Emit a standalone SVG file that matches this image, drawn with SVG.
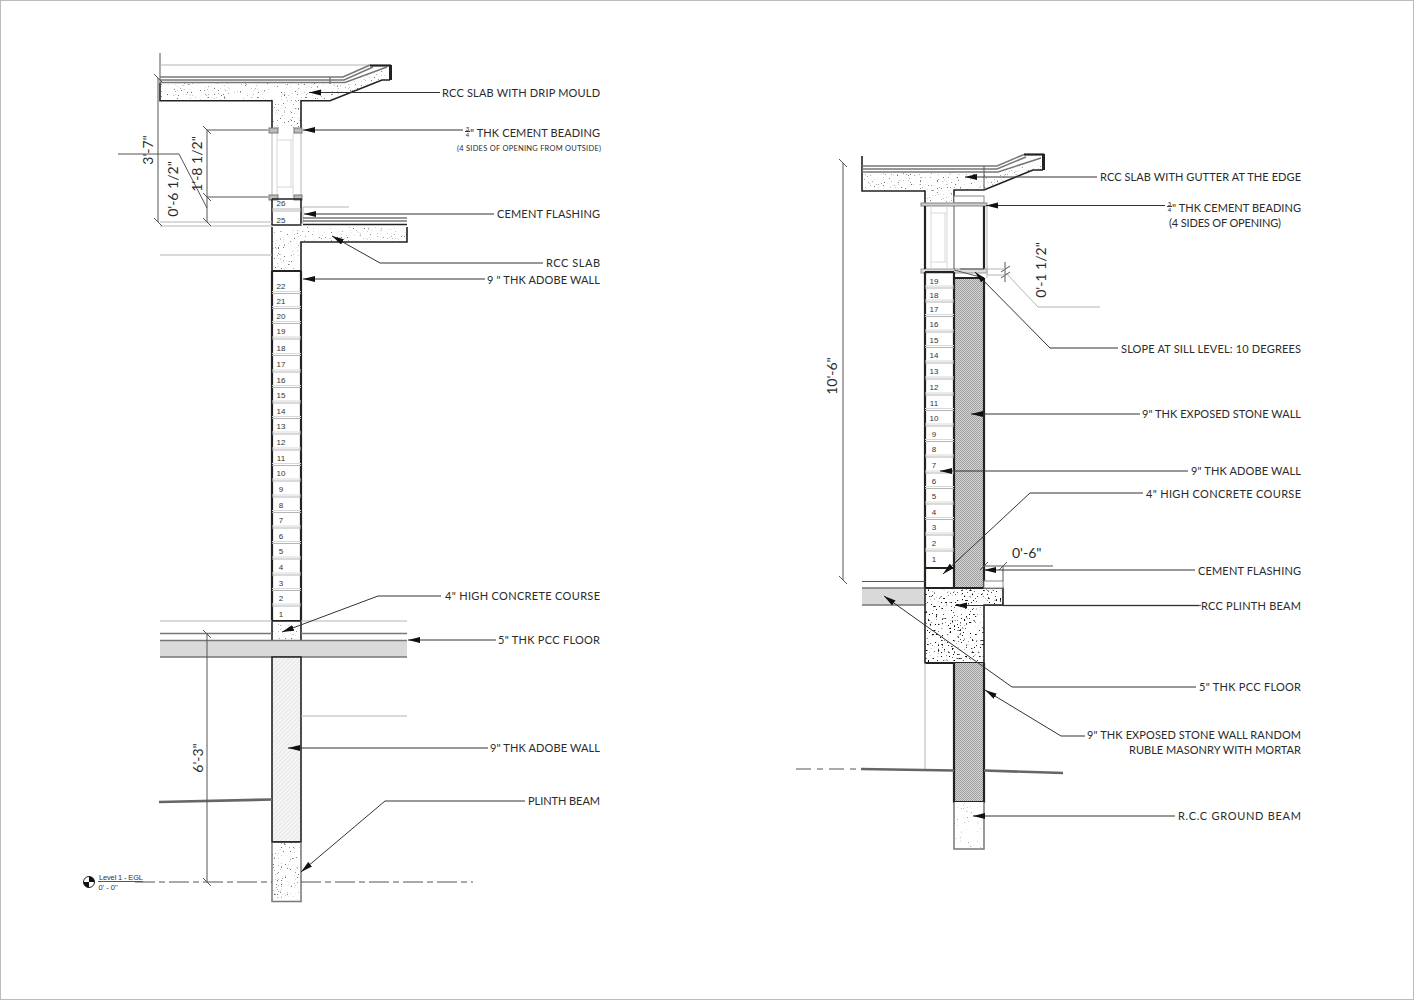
<svg xmlns="http://www.w3.org/2000/svg" width="1414" height="1000" viewBox="0 0 1414 1000">
<style>
text{font-family:"Lato","Liberation Sans",sans-serif;fill:#2b2b2b}
.lb{font-size:11px}
.sm{font-size:7.5px}
.dim{font-size:14px}
.n{font-family:"Liberation Sans",sans-serif;font-size:8px;text-anchor:middle;fill:#333}
.lv{font-family:"Liberation Sans",sans-serif;font-size:7.5px;fill:#333}
.k{fill:none;stroke:#222;stroke-width:1.6}
.kk{fill:none;stroke:#222;stroke-width:2.2}
.m{fill:none;stroke:#555;stroke-width:1}
.t{fill:none;stroke:#777;stroke-width:1.5}
.l{fill:none;stroke:#b5b5b5;stroke-width:1}
.ll{fill:none;stroke:#d8d8d8;stroke-width:1}
.g{fill:none;stroke:#666;stroke-width:2.6}
.c{fill:none;stroke:#333;stroke-width:1}
.a{marker-end:url(#ar)}
.band{fill:#d9d9d9}
.conc{fill:#fff;filter:url(#noise)}
.concf{fill:#fff;filter:url(#noisef)}
.concd{fill:#fff;filter:url(#noised)}
</style>
<defs>
<marker id="ar" markerUnits="userSpaceOnUse" markerWidth="13" markerHeight="7" refX="12" refY="3" orient="auto"><path d="M0 0L12 3L0 6z" fill="#111"/></marker>
<filter id="noise" x="0" y="0" width="100%" height="100%" color-interpolation-filters="sRGB">
<feTurbulence type="fractalNoise" baseFrequency=".7" numOctaves="2" seed="7" result="n"/>
<feColorMatrix in="n" type="matrix" values="0 0 0 0 .45 0 0 0 0 .45 0 0 0 0 .45 10 0 0 0 -6.700"/>
<feComposite in2="SourceGraphic" operator="in" result="d"/>
<feMerge><feMergeNode in="SourceGraphic"/><feMergeNode in="d"/></feMerge>
</filter>
<filter id="noisef" x="0" y="0" width="100%" height="100%" color-interpolation-filters="sRGB">
<feTurbulence type="fractalNoise" baseFrequency=".7" numOctaves="2" seed="21" result="n"/>
<feColorMatrix in="n" type="matrix" values="0 0 0 0 .65 0 0 0 0 .65 0 0 0 0 .65 10 0 0 0 -6.900"/>
<feComposite in2="SourceGraphic" operator="in" result="d"/>
<feMerge><feMergeNode in="SourceGraphic"/><feMergeNode in="d"/></feMerge>
</filter>
<filter id="noised" x="0" y="0" width="100%" height="100%" color-interpolation-filters="sRGB">
<feTurbulence type="fractalNoise" baseFrequency=".5" numOctaves="2" seed="11" result="n"/>
<feColorMatrix in="n" type="matrix" values="0 0 0 0 .08 0 0 0 0 .08 0 0 0 0 .08 14 0 0 0 -9.200"/>
<feComposite in2="SourceGraphic" operator="in" result="d"/>
<feMerge><feMergeNode in="SourceGraphic"/><feMergeNode in="d"/></feMerge>
</filter>
<pattern id="hatch" width="3" height="3" patternUnits="userSpaceOnUse" patternTransform="rotate(-45)"><rect width="3" height="3" fill="#fbfbfb"/><path d="M0 1H3" stroke="#dcdcdc" stroke-width="1"/></pattern>
<pattern id="stone" width="2" height="2" patternUnits="userSpaceOnUse"><rect width="2" height="2" fill="#d4d4d4"/><rect width="1" height="1" fill="#a0a0a0"/><rect x="1" y="1" width="1" height="1" fill="#a0a0a0"/></pattern>
</defs>
<rect x=".5" y=".5" width="1413" height="999" fill="#fff" stroke="#bbb"/>

<g id="left-section">
<g id="left-roof-slab">
<path class="conc" d="M160 83H345L390 67V80H382L330 100.700H301V129H272V100.700H160Z"/>
<path class="k" d="M160 83V100.700H272V129M301 129V100.700H330L382 80H390"/>
<path class="m" d="M160 53V83"/>
<path class="l" d="M160 65H370"/>
<path class="t" d="M160 77H343L370 65M160 82.500H345L387 67M160 80H344L373 67M330 77V84"/>
<path class="kk" d="M370 65.500H391"/>
<path d="M389 65H392V80H389Z" fill="#222"/>
</g>
<g id="left-window">
<path class="l" d="M272 129V197M301 129V197"/>
<path class="ll" d="M277 133V197M293 133V197M277 140H293M277 187H293M291 140V187"/>
<rect x="269" y="128" width="9" height="5" fill="#bbb" stroke="#777"/>
<rect x="294" y="128" width="8" height="5" fill="#bbb" stroke="#777"/>
<rect x="269" y="195" width="9" height="5" fill="#bbb" stroke="#777"/>
<rect x="294" y="195" width="8" height="5" fill="#bbb" stroke="#777"/>
</g>
<g id="left-sill-courses">
<path class="k" d="M272 199V225H301V199H272"/>
<path class="l" d="M272 209H301M272 211H301"/>
<path class="l" d="M303 207V222L301 225M303 207H349"/>
<text class="n" x="281" y="206">26</text><text class="n" x="281" y="223">25</text>
</g>
<g id="left-mid-slab">
<path class="conc" d="M272 227H407V242H301V271H272Z"/>
<path class="k" d="M407 227V242H301V271M272 227V271"/>
<path class="t" d="M303 218H407M303 221H407"/>
<path class="k" d="M303 224.500H407"/>
<path class="l" d="M160 222H272M160 226H272M160 255H272"/>
</g>
<g id="left-adobe-wall">
<path class="kk" d="M272 271H301M272 271V621M301 271V621M272 621H301"/>
<path class="l" d="M272 293.500H301M272 308.500H301M272 323.500H301M272 339H301M272 355.500H301M272 372H301M272 387.500H301M272 403H301M272 418.500H301M272 434H301M272 450H301M272 465.500H301M272 481H301M272 497H301M272 512.500H301M272 528H301M272 543.500H301M272 559H301M272 575H301M272 590.500H301M272 606H301"/>
<path class="ll" d="M272 291.500H301M272 306.500H301M272 321.500H301M272 337H301M272 353.500H301M272 370H301M272 385.500H301M272 401H301M272 416.500H301M272 432H301M272 448H301M272 463.500H301M272 479H301M272 495H301M272 510.500H301M272 526H301M272 541.500H301M272 557H301M272 573H301M272 588.500H301M272 604H301"/>
<text class="n" x="281" y="289">22</text><text class="n" x="281" y="304">21</text><text class="n" x="281" y="319">20</text><text class="n" x="281" y="334">19</text><text class="n" x="281" y="351">18</text><text class="n" x="281" y="367">17</text><text class="n" x="281" y="383">16</text><text class="n" x="281" y="398">15</text><text class="n" x="281" y="414">14</text><text class="n" x="281" y="429">13</text><text class="n" x="281" y="445">12</text><text class="n" x="281" y="461">11</text><text class="n" x="281" y="476">10</text><text class="n" x="281" y="492">9</text><text class="n" x="281" y="508">8</text><text class="n" x="281" y="523">7</text><text class="n" x="281" y="539">6</text><text class="n" x="281" y="554">5</text><text class="n" x="281" y="570">4</text><text class="n" x="281" y="586">3</text><text class="n" x="281" y="601">2</text><text class="n" x="281" y="617">1</text>
</g>
<g id="left-concrete-course">
<rect class="conc" x="272" y="621" width="29" height="20"/>
<path class="k" d="M272 621V641M301 621V641M272 621H301"/>
</g>
<g id="left-floor">
<rect class="band" x="160" y="641" width="247" height="16"/>
<path class="l" d="M160 621H272M301 621H407"/>
<path class="t" d="M160 633.500H272M301 633.500H407"/>
<path class="t" d="M160 657H407M160 640.500H407"/>
</g>
<g id="left-lower-wall">
<rect x="272" y="657" width="29" height="185" fill="url(#hatch)"/>
<path class="k" d="M272 657H301V842H272Z"/>
<path class="l" d="M301 716H407"/>
<path class="g" d="M159 802L272 799.500"/>
</g>
<g id="left-plinth">
<rect class="conc" x="272" y="842" width="29" height="59.500"/>
<path class="k" d="M272 842H301"/>
<path class="t" d="M272 842V901.500H301V842"/>
</g>
<g id="left-level">
<path class="m" d="M135 882H272M301 882H473" stroke-dasharray="20 4 6 4"/>
<circle cx="89" cy="882" r="5.500" fill="#fff" stroke="#222"/>
<path d="M89 876.500A5.500 5.500 0 0 1 94.500 882H89ZM89 887.500A5.500 5.500 0 0 1 83.500 882H89Z" fill="#111"/>
<text class="lv" x="99" y="880" textLength="44">Level 1 - EGL</text>
<path class="m" d="M98 881.500H143"/>
<text class="lv" x="98.500" y="889.500">0' - 0"</text>
</g>
<g id="left-dimensions">
<path class="m" d="M158 78V222M154 74L162 82M154 218L162 226"/>
<path class="m" d="M207 130V222M203 126L211 134M203 193L211 201M203 218L211 226M207 130H268M207 197H268"/>
<path class="m" d="M118 154H179L207 208"/>
<path class="m" d="M207 633V882M203 630L211 638M203 878L211 886"/>
<text class="dim" transform="translate(153 150) rotate(-90)" text-anchor="middle">3'-7"</text>
<text class="dim" transform="translate(178 189) rotate(-90)" text-anchor="middle">0'-6 1/2"</text>
<text class="dim" transform="translate(202 164) rotate(-90)" text-anchor="middle">1'-8 1/2"</text>
<text class="dim" transform="translate(203 758) rotate(-90)" text-anchor="middle">6'-3"</text>
</g>
</g>

<g id="right-section">
<g id="right-roof-slab">
<path class="conc" d="M862 172H998L1042 158V170H1033L984 190H954V203H925V191H862Z"/>
<path class="k" d="M862 156V191H925V203M954 203V190H984L1033 170H1043"/>
<path class="t" d="M862 166H997L1024 154.500M862 169H997L1026 157M862 172H998L1041 158"/>
<path class="m" d="M984 166V190"/>
<path class="kk" d="M1024 154.500H1044"/>
<path d="M1042 154H1045V170H1042Z" fill="#222"/>
<rect x="954" y="196" width="30" height="7" fill="#fff" stroke="#888"/>
</g>
<g id="right-window">
<rect x="921" y="203" width="66" height="3" fill="#ccc" stroke="#888"/>
<rect x="921" y="269" width="66" height="4" fill="#ddd" stroke="#999"/>
<path class="kk" d="M925 206V269M984 206V269"/>
<path class="m" d="M954 206V269"/>
<path class="ll" d="M931 206V269M947 206V269M931 213H947M931 262H947M945 213V262"/>
<path class="l" d="M987 206V278"/>
<path class="m" d="M954 270L984 278M960 269H984"/>
</g>
<g id="right-stone-wall">
<rect x="954" y="278" width="30" height="310" fill="url(#stone)"/>
<path class="kk" d="M954 272V588M984 278V588M954 278H984"/>
</g>
<g id="right-adobe-wall">
<path class="kk" d="M925 272V588M925 272H954M925 568H954"/>
<path class="l" d="M925 288H954M925 302H954M925 316.500H954M925 332H954M925 347.500H954M925 363H954M925 379H954M925 395H954M925 410.500H954M925 426H954M925 441.500H954M925 457H954M925 473H954M925 488.500H954M925 504H954M925 519.500H954M925 535H954M925 551H954"/>
<path class="ll" d="M925 286H954M925 300H954M925 314.500H954M925 330H954M925 345.500H954M925 361H954M925 377H954M925 393H954M925 408.500H954M925 424H954M925 439.500H954M925 455H954M925 471H954M925 486.500H954M925 502H954M925 517.500H954M925 533H954M925 549H954"/>
<text class="n" x="934" y="284">19</text><text class="n" x="934" y="298">18</text><text class="n" x="934" y="312">17</text><text class="n" x="934" y="327">16</text><text class="n" x="934" y="343">15</text><text class="n" x="934" y="358">14</text><text class="n" x="934" y="374">13</text><text class="n" x="934" y="390">12</text><text class="n" x="934" y="406">11</text><text class="n" x="934" y="421">10</text><text class="n" x="934" y="437">9</text><text class="n" x="934" y="452">8</text><text class="n" x="934" y="468">7</text><text class="n" x="934" y="484">6</text><text class="n" x="934" y="499">5</text><text class="n" x="934" y="515">4</text><text class="n" x="934" y="530">3</text><text class="n" x="934" y="546">2</text><text class="n" x="934" y="562">1</text>
</g>
<g id="right-floor">
<rect class="band" x="862" y="588" width="63" height="17"/>
<path class="m" d="M862 581.500H925"/>
<path class="t" d="M862 588H925M862 605H925"/>
</g>
<g id="right-plinth-beam">
<path class="concd" d="M925 588H1003V605H984V663H925Z"/>
<path class="k" d="M925 588H1003V605H984V663H925Z"/>
<path class="kk" d="M925 663H984M925 588H984"/>
<rect x="984" y="581" width="19" height="7" fill="#fff" stroke="#888"/>
<path class="t" d="M1003 605.500H1201"/>
</g>
<g id="right-lower-wall">
<rect x="954" y="663" width="30" height="139" fill="url(#stone)"/>
<path class="kk" d="M954 663V802H984V663"/>
<path class="l" d="M925 663V769"/>
</g>
<g id="right-ground-beam">
<rect class="concf" x="954" y="802" width="30" height="47"/>
<path class="t" d="M954 802V849H984V802"/>
</g>
<g id="right-ground">
<path class="m" d="M796 769H860" stroke-dasharray="15 6 6 6"/>
<path class="g" d="M861 769L954 770.500M984 770.500L1063 773"/>
</g>
<g id="right-dimensions">
<path class="m" d="M843 163V580M839 159L847 167M839 576L847 584"/>
<path class="m" d="M984 566H1053M980 570L988 562M999 570L1007 562M1003 566V581"/>
<path class="m" d="M1005 262V282M1001 272L1010 266M1001 278L1010 272"/>
<path class="l" d="M984 269H1005M987 275H1005M1005 272L1038 307H1100"/>
<text class="dim" transform="translate(1046 270) rotate(-90)" text-anchor="middle">0'-1 1/2"</text>
<text class="dim" transform="translate(837 376) rotate(-90)" text-anchor="middle">10'-6"</text>
<text class="dim" x="1012" y="558">0'-6"</text>
</g>
</g>

<g id="connectors">
<path class="c a" d="M440 92.500H375L309 92.500"/>
<path class="c a" d="M463 130H303"/>
<path class="c a" d="M494 214H304"/>
<path class="c a" d="M543 263H380L332 236"/>
<path class="c a" d="M485 279H303"/>
<path class="c a" d="M441 596H378L282 632"/>
<path class="c a" d="M496 640H408"/>
<path class="c a" d="M488 748H288"/>
<path class="c a" d="M525 801H385L301 872"/>
<path class="c a" d="M1097 177H965"/>
<path class="c a" d="M1165 205.500H986"/>
<path class="c a" d="M1118 348H1050L975 272"/>
<path class="c a" d="M1140 414H971"/>
<path class="c a" d="M1188 471H940"/>
<path class="c a" d="M1143 493H1030L943 574"/>
<path class="c a" d="M1195 570H984"/>
<path class="c a" d="M1199 605.500H955"/>
<path class="c a" d="M1196 687H1012L884 596"/>
<path class="c a" d="M1085 736H1061L985 690"/>
<path class="c a" d="M1175 816H973"/>
</g>

<g id="labels">
<text class="lb" x="442" y="96.500" textLength="158">RCC SLAB WITH DRIP MOULD</text>
<text x="467.500" y="130.500" font-size="6" text-anchor="middle">3</text><path class="c" d="M465 131.500H470"/><text x="467.500" y="137" font-size="6" text-anchor="middle">4</text>
<text class="lb" x="470" y="137" textLength="130">" THK CEMENT BEADING</text>
<text class="sm" x="457" y="151" textLength="144">(4 SIDES OF OPENING FROM OUTSIDE)</text>
<text class="lb" x="497" y="218" textLength="103">CEMENT FLASHING</text>
<text class="lb" x="546" y="267" textLength="54">RCC SLAB</text>
<text class="lb" x="487" y="284" textLength="113">9 " THK ADOBE WALL</text>
<text class="lb" x="445" y="600" textLength="155">4" HIGH CONCRETE COURSE</text>
<text class="lb" x="498" y="644" textLength="102">5" THK PCC FLOOR</text>
<text class="lb" x="490" y="752" textLength="110">9" THK ADOBE WALL</text>
<text class="lb" x="528" y="805" textLength="72">PLINTH BEAM</text>
<text class="lb" x="1100" y="181" textLength="201">RCC SLAB WITH GUTTER AT THE EDGE</text>
<text x="1169.500" y="205.500" font-size="6" text-anchor="middle">3</text><path class="c" d="M1167 206.500H1172"/><text x="1169.500" y="212" font-size="6" text-anchor="middle">4</text>
<text class="lb" x="1172" y="212" textLength="129">" THK CEMENT BEADING</text>
<text class="lb" x="1169" y="227" textLength="112">(4 SIDES OF OPENING)</text>
<text class="lb" x="1121" y="353" textLength="180">SLOPE AT SILL LEVEL: 10 DEGREES</text>
<text class="lb" x="1142" y="418" textLength="159">9" THK EXPOSED STONE WALL</text>
<text class="lb" x="1191" y="475" textLength="110">9" THK ADOBE WALL</text>
<text class="lb" x="1146" y="498" textLength="155">4" HIGH CONCRETE COURSE</text>
<text class="lb" x="1198" y="575" textLength="103">CEMENT FLASHING</text>
<text class="lb" x="1201" y="610" textLength="100">RCC PLINTH BEAM</text>
<text class="lb" x="1199" y="691" textLength="102">5" THK PCC FLOOR</text>
<text class="lb" x="1087" y="739" textLength="214">9" THK EXPOSED STONE WALL RANDOM</text>
<text class="lb" x="1129" y="754" textLength="172">RUBLE MASONRY WITH MORTAR</text>
<text class="lb" x="1178" y="820" textLength="123">R.C.C GROUND BEAM</text>
</g>
</svg>
